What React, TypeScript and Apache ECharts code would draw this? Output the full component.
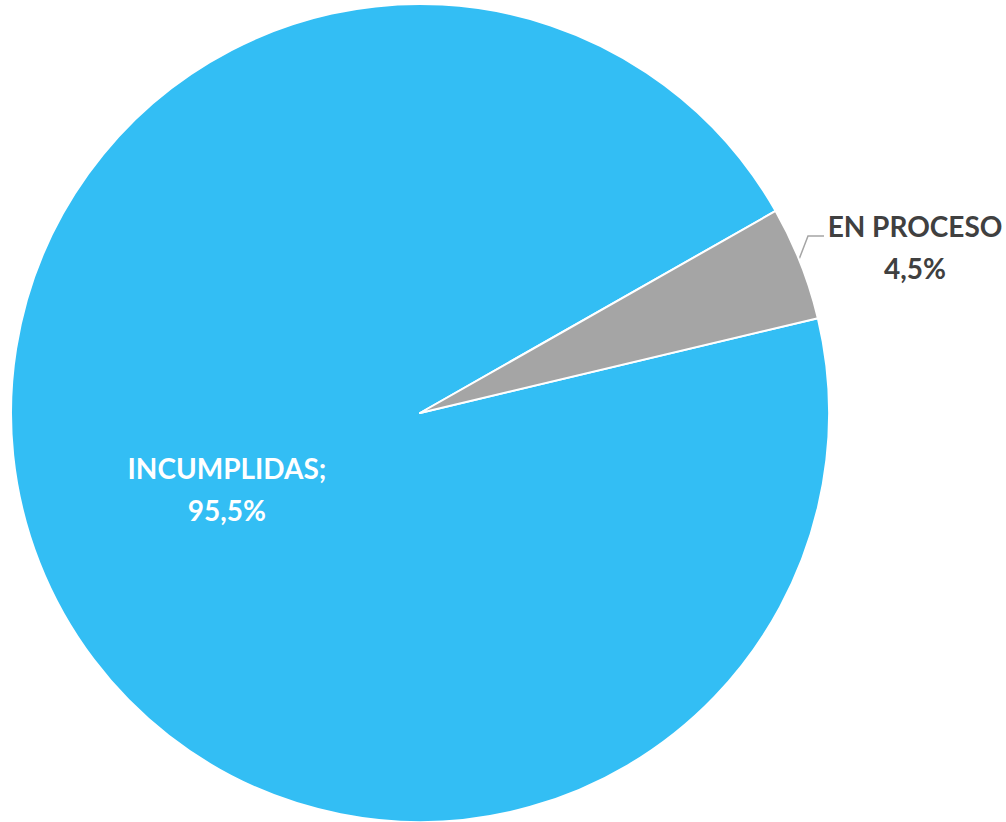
import React, { useEffect, useRef } from "react";
import * as echarts from "echarts";

const categories = ["INCUMPLIDAS", "EN PROCESO"];
const values = [95.5, 4.5];
const colors = ["#33BEF4", "#A5A5A5"];

export default function App() {
  const ref = useRef<HTMLDivElement>(null);
  useEffect(() => {
    document.body.style.margin = "0";
    const chart = echarts.init(ref.current!, null, { renderer: "svg" });
    const fmt = (v: number) => v.toFixed(1).replace(".", ",") + "%";
    chart.setOption({
      animation: false,
      backgroundColor: "#ffffff",
      series: [
        {
          type: "pie",
          center: [420, 413],
          radius: [0, 409],
          startAngle: 13.4,
          clockwise: true,
          data: categories.map((c, i) => ({
            name: c,
            value: values[i],
            itemStyle: { color: colors[i] },
            label:
              i === 0
                ? {
                    position: "inside",
                    color: "#ffffff",
                    formatter: () => `${c};\n${fmt(values[i])}`,
                  }
                : {
                    position: "outside",
                    color: "#404040",
                    formatter: () => `${c}\n${fmt(values[i])}`,
                  },
            labelLine: { show: i === 1, lineStyle: { color: "#A5A5A5", width: 1.5 } },
          })),
          itemStyle: { borderColor: "#ffffff", borderWidth: 2 },
          label: {
            fontFamily: "Lato, sans-serif",
            fontWeight: "bold",
            fontSize: 28,
            lineHeight: 42,
            align: "center",
            overflow: "none",
            bleedMargin: 0,
          },
          labelLayout: (params: any) => {
            if (params.dataIndex === 1) {
              return {
                x: 915,
                y: 247,
                align: "center",
                verticalAlign: "middle",
                labelLinePoints: [
                  [798, 262],
                  [808, 236],
                  [824, 236],
                ],
              };
            }
            return {};
          },
        },
      ],
    });
    return () => chart.dispose();
  }, []);
  return <div ref={ref} style={{ width: 1006, height: 822 }} />;
}
